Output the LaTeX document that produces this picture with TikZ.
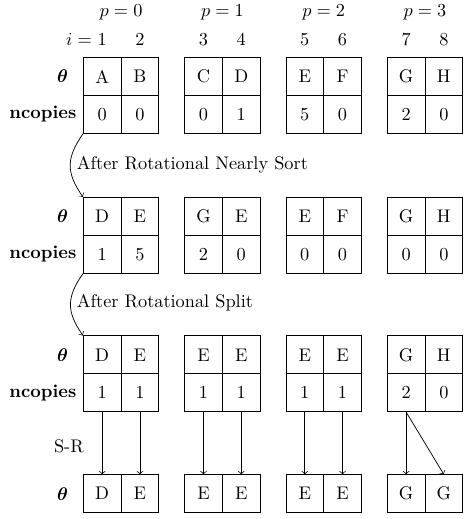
\documentclass[tikz,border=0pt]{standalone}
\usepackage{amsmath,bm}
\begin{document}
\begin{tikzpicture}[x=0.546pt,y=-0.546pt,
  cell/.style={draw, minimum width=20.64pt, minimum height=20.75pt, inner sep=0pt},
  lbl/.style={inner sep=0pt},
  arr/.style={->}]
\useasboundingbox (0,0) rectangle (464,520);
% p labels
\foreach \g/\x in {0/121.3,1/222.8,2/324.3,3/425.8}
  \node[lbl] (p\g) at (\x,12.5) {$p=\g$};
% columns
\foreach \k/\x/\ta/\na/\tb/\nb/\tc/\nc/\td in {
  1/102.4/A/0/D/1/D/1/D,
  2/140.2/B/0/E/5/E/1/E,
  3/203.9/C/0/G/2/E/1/E,
  4/241.7/D/1/E/0/E/1/E,
  5/305.4/E/5/E/0/E/1/E,
  6/343.2/F/0/F/0/E/1/E,
  7/406.9/G/2/G/0/G/2/G,
  8/444.7/H/0/H/0/H/0/G}{
  \node[lbl] (i\k) at (\x,40) {$\k$};
  \node[cell] (t1-\k) at (\x,76.7) {\ta};
  \node[cell] (n1-\k) at (\x,114.7) {\na};
  \node[cell] (t2-\k) at (\x,216.7) {\tb};
  \node[cell] (n2-\k) at (\x,254.7) {\nb};
  \node[cell] (t3-\k) at (\x,355.5) {\tc};
  \node[cell] (n3-\k) at (\x,393.5) {\nc};
  \node[cell] (b-\k) at (\x,494.7) {\td};
}
\node[lbl, anchor=base east] (ieq) at (i1.base west) {$i={}$};
% row labels
\foreach \r in {t1,t2,t3,b}
  \node[lbl, anchor=east] (L\r) at ([xshift=-8pt]\r-1.west) {$\bm{\theta}$};
\foreach \r in {n1,n2,n3}
  \node[lbl, anchor=east] (L\r) at ([xshift=-3.4pt]\r-1.west) {\textbf{ncopies}};
% curved arrows
\draw[arr] (n1-1.south west) to[out=235,in=125,looseness=1.2] (t2-1.north west);
\draw[arr] (n2-1.south west) to[out=235,in=125,looseness=1.2] (t3-1.north west);
\node[lbl, anchor=west] (s1) at (76.7,165) {After Rotational Nearly Sort};
\node[lbl, anchor=west] (s2) at (76.7,303.3) {After Rotational Split};
\node[lbl] (sr) at (69,446.7) {S-R};
% S-R arrows
\foreach \k in {1,...,7}
  \draw[arr] (n3-\k.south) -- (b-\k.north);
\draw[arr] (n3-7.south) -- (b-8.north);
\end{tikzpicture}
\end{document}
